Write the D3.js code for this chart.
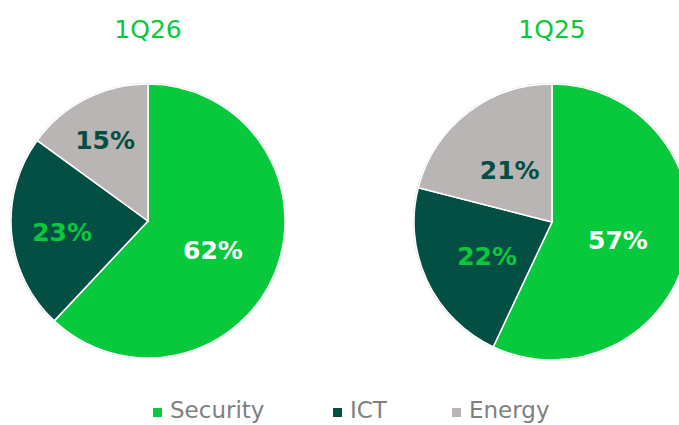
<!DOCTYPE html>
<html>
<head>
<meta charset="utf-8">
<script src="https://cdn.jsdelivr.net/npm/d3@7"></script>
<style>
  body { margin: 0; background: #fff; }
  svg { display: block; font-family: "DejaVu Sans", Verdana, sans-serif; }
</style>
</head>
<body>
<div id="chart"></div>
<script>
var WIDTH = 679, HEIGHT = 425;

// data
var categories = ["Security", "ICT", "Energy"];
var periods = ["1Q26", "1Q25"];
var values1Q26 = [62, 23, 15];
var values1Q25 = [57, 22, 21];

var colors = ["#08c93c", "#044f43", "#b9b5b4"];
var labelColors = ["#ffffff", "#08c93c", "#044f43"];

var svg = d3.select("#chart").append("svg")
  .attr("width", WIDTH)
  .attr("height", HEIGHT);

var color = d3.scaleOrdinal().domain(categories).range(colors);
var labelColor = d3.scaleOrdinal().domain(categories).range(labelColors);

var pie = d3.pie().sort(null).value(function(d) { return d.value; });

var charts = [
  { title: periods[0], values: values1Q26, cx: 148, cy: 221, r: 137, labelR: [0.51, 0.63, 0.69] },
  { title: periods[1], values: values1Q25, cx: 552, cy: 222, r: 138, labelR: [0.49, 0.52, 0.5] }
];

charts.forEach(function(c) {
  var data = categories.map(function(k, i) { return { key: k, value: c.values[i] }; });
  var g = svg.append("g").attr("transform", "translate(" + c.cx + "," + c.cy + ")");
  var arc = d3.arc().innerRadius(0).outerRadius(c.r);

  g.append("circle")
    .attr("r", c.r + 0.5)
    .attr("fill", "none")
    .attr("stroke", "#e3e3e3")
    .attr("stroke-width", 1.5);

  var arcs = pie(data);
  g.selectAll("path")
    .data(arcs)
    .enter()
    .append("path")
    .attr("d", arc)
    .attr("fill", function(d) { return color(d.data.key); })
    .attr("stroke", "#ffffff")
    .attr("stroke-width", 1.5);

  g.selectAll("text.pct")
    .data(arcs)
    .enter()
    .append("text")
    .attr("class", "pct")
    .attr("transform", function(d, i) {
      var lr = c.r * c.labelR[i];
      var a = (d.startAngle + d.endAngle) / 2;
      return "translate(" + (Math.sin(a) * lr) + "," + (-Math.cos(a) * lr + 3) + ")";
    })
    .attr("text-anchor", "middle")
    .attr("dy", "0.36em")
    .style("font-size", "25px")
    .style("font-weight", "bold")
    .style("fill", function(d) { return labelColor(d.data.key); })
    .text(function(d) { return d.data.value + "%"; });

  svg.append("text")
    .attr("x", c.cx)
    .attr("y", 38)
    .attr("text-anchor", "middle")
    .style("font-size", "25px")
    .style("fill", "#08c93c")
    .text(c.title);
});

// legend
var legendX = d3.scaleOrdinal().domain(categories).range([153, 333, 452]);
var legend = svg.selectAll("g.legend")
  .data(categories)
  .enter()
  .append("g")
  .attr("class", "legend")
  .attr("transform", function(d) { return "translate(" + legendX(d) + ",0)"; });

legend.append("rect")
  .attr("x", 0)
  .attr("y", 408)
  .attr("width", 9)
  .attr("height", 9)
  .attr("fill", function(d) { return color(d); });

legend.append("text")
  .attr("x", 17)
  .attr("y", 418)
  .style("font-size", "23px")
  .style("fill", "#7f7f7f")
  .text(function(d) { return d; });
</script>
</body>
</html>
